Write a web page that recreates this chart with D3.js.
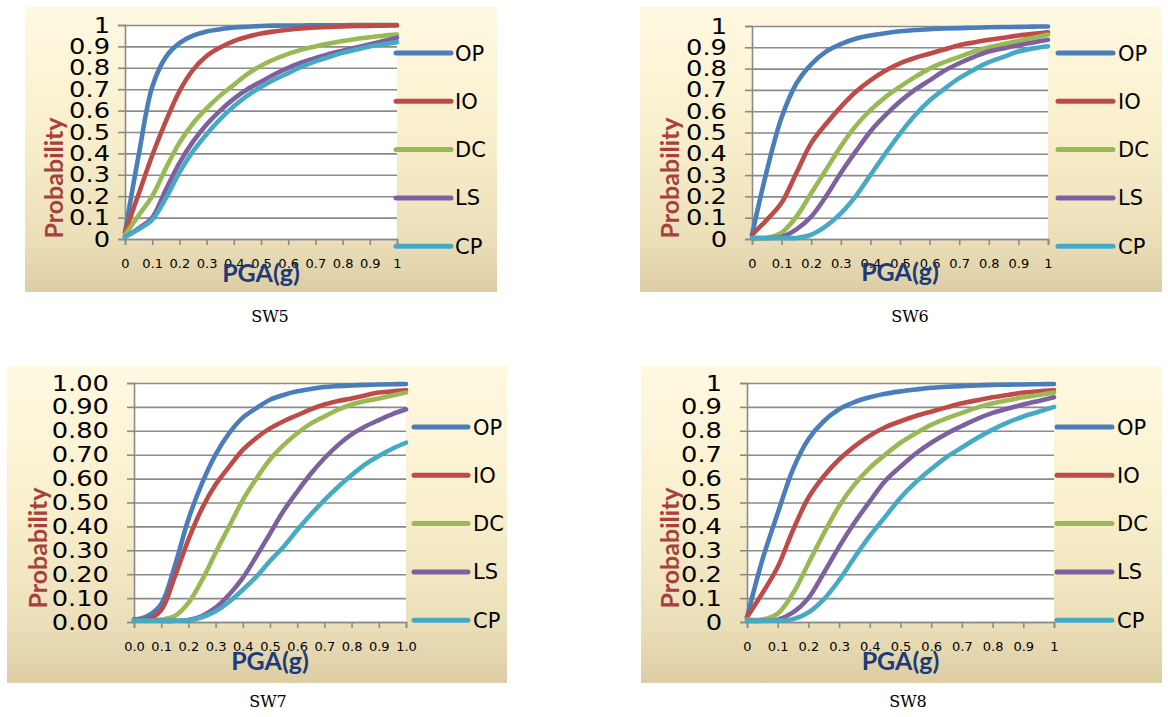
<!DOCTYPE html>
<html>
<head>
<meta charset="utf-8">
<script src="https://cdn.jsdelivr.net/npm/d3@7"></script>
<style>
  html, body { margin: 0; padding: 0; background: #ffffff; }
  svg { display: block; }
</style>
</head>
<body>
<svg id="chart" width="1168" height="717"></svg>
<script>
// Fragility curves: probability of reaching each performance level vs PGA (g)
const pga = [0, 0.05, 0.1, 0.15, 0.2, 0.25, 0.3, 0.35, 0.4, 0.45, 0.5,
             0.55, 0.6, 0.65, 0.7, 0.75, 0.8, 0.85, 0.9, 0.95, 1.0];

const levels = ["OP", "IO", "DC", "LS", "CP"];

// SW5
const sw5_OP = [0.03, 0.39, 0.71, 0.85, 0.915, 0.95, 0.97, 0.98, 0.988, 0.992, 0.995, 0.997, 0.998, 0.998, 0.999, 0.999, 0.999, 1.0, 1.0, 1.0, 1.0];
const sw5_IO = [0.03, 0.21, 0.39, 0.55, 0.69, 0.79, 0.855, 0.895, 0.925, 0.945, 0.96, 0.97, 0.978, 0.984, 0.988, 0.991, 0.993, 0.995, 0.996, 0.997, 0.998];
const sw5_DC = [0.02, 0.11, 0.20, 0.33, 0.45, 0.54, 0.61, 0.67, 0.72, 0.77, 0.81, 0.84, 0.865, 0.885, 0.90, 0.913, 0.925, 0.935, 0.943, 0.95, 0.955];
const sw5_LS = [0.01, 0.05, 0.10, 0.23, 0.355, 0.455, 0.535, 0.60, 0.655, 0.70, 0.735, 0.77, 0.80, 0.825, 0.845, 0.865, 0.88, 0.895, 0.91, 0.925, 0.94];
const sw5_CP = [0.01, 0.045, 0.09, 0.19, 0.31, 0.41, 0.49, 0.56, 0.62, 0.67, 0.71, 0.745, 0.775, 0.805, 0.83, 0.85, 0.87, 0.885, 0.90, 0.91, 0.92];

// SW6
const sw6_OP = [0.02, 0.32, 0.57, 0.73, 0.82, 0.88, 0.915, 0.94, 0.955, 0.966, 0.975, 0.981, 0.985, 0.988, 0.99, 0.992, 0.994, 0.995, 0.996, 0.997, 0.998];
const sw6_IO = [0.02, 0.09, 0.17, 0.31, 0.45, 0.54, 0.62, 0.69, 0.745, 0.79, 0.825, 0.85, 0.87, 0.89, 0.91, 0.923, 0.935, 0.945, 0.955, 0.963, 0.97];
const sw6_DC = [0.005, 0.005, 0.03, 0.105, 0.215, 0.325, 0.435, 0.53, 0.605, 0.665, 0.715, 0.76, 0.80, 0.83, 0.855, 0.88, 0.90, 0.915, 0.93, 0.945, 0.96];
const sw6_LS = [0.005, 0.005, 0.01, 0.045, 0.105, 0.20, 0.31, 0.41, 0.505, 0.58, 0.645, 0.70, 0.745, 0.79, 0.825, 0.855, 0.88, 0.895, 0.91, 0.923, 0.935];
const sw6_CP = [0.005, 0.005, 0.005, 0.005, 0.02, 0.06, 0.12, 0.20, 0.30, 0.40, 0.495, 0.58, 0.65, 0.705, 0.755, 0.795, 0.83, 0.855, 0.88, 0.895, 0.905];

// SW7
const sw7_OP = [0.01, 0.025, 0.075, 0.235, 0.43, 0.58, 0.70, 0.79, 0.855, 0.895, 0.93, 0.95, 0.965, 0.975, 0.983, 0.987, 0.99, 0.992, 0.994, 0.995, 0.996];
const sw7_IO = [0.01, 0.01, 0.05, 0.19, 0.345, 0.475, 0.575, 0.65, 0.72, 0.77, 0.81, 0.84, 0.865, 0.89, 0.91, 0.925, 0.935, 0.948, 0.96, 0.965, 0.97];
const sw7_DC = [0.005, 0.005, 0.01, 0.025, 0.08, 0.175, 0.29, 0.40, 0.51, 0.60, 0.68, 0.74, 0.79, 0.83, 0.86, 0.888, 0.91, 0.925, 0.935, 0.948, 0.96];
const sw7_LS = [0.005, 0.005, 0.005, 0.005, 0.008, 0.025, 0.06, 0.115, 0.185, 0.275, 0.37, 0.465, 0.545, 0.62, 0.685, 0.74, 0.785, 0.818, 0.845, 0.87, 0.89];
const sw7_CP = [0.005, 0.005, 0.005, 0.005, 0.007, 0.02, 0.045, 0.085, 0.135, 0.19, 0.255, 0.315, 0.385, 0.45, 0.51, 0.565, 0.615, 0.66, 0.695, 0.725, 0.75];

// SW8
const sw8_OP = [0.02, 0.26, 0.455, 0.64, 0.765, 0.84, 0.89, 0.92, 0.94, 0.955, 0.965, 0.973, 0.98, 0.984, 0.987, 0.99, 0.992, 0.993, 0.994, 0.995, 0.996];
const sw8_IO = [0.02, 0.12, 0.23, 0.385, 0.52, 0.61, 0.68, 0.735, 0.78, 0.815, 0.84, 0.862, 0.88, 0.898, 0.915, 0.928, 0.94, 0.95, 0.96, 0.965, 0.97];
const sw8_DC = [0.01, 0.01, 0.035, 0.12, 0.245, 0.37, 0.485, 0.575, 0.645, 0.70, 0.75, 0.79, 0.825, 0.852, 0.875, 0.897, 0.915, 0.928, 0.94, 0.95, 0.96];
const sw8_LS = [0.005, 0.005, 0.01, 0.04, 0.10, 0.205, 0.315, 0.415, 0.505, 0.59, 0.65, 0.705, 0.75, 0.788, 0.82, 0.85, 0.875, 0.893, 0.91, 0.925, 0.94];
const sw8_CP = [0.005, 0.005, 0.006, 0.012, 0.04, 0.095, 0.175, 0.27, 0.36, 0.44, 0.52, 0.585, 0.64, 0.69, 0.73, 0.77, 0.805, 0.835, 0.86, 0.88, 0.90];

// Axis tick values
const yTicks = [0, 0.1, 0.2, 0.3, 0.4, 0.5, 0.6, 0.7, 0.8, 0.9, 1];
const xTicks = [0, 0.1, 0.2, 0.3, 0.4, 0.5, 0.6, 0.7, 0.8, 0.9, 1];

const levelColors = ["#4a7ebb", "#be4b48", "#98b954", "#7d60a0", "#46aac5"];

const panels = [
  { caption: "SW5", series: [sw5_OP, sw5_IO, sw5_DC, sw5_LS, sw5_CP],
    bg: { x: 25, y: 7, w: 472, h: 285 }, plot: { l: 125, r: 397, t: 25, b: 239 },
    yFmt: v => String(v), xFmt: v => String(v), yPad: 8,
    yTitle: { x: 63, y: 178 }, xTitle: { y: 282 },
    legend: { x1: 396, x2: 451, tx: 455, y0: 53, dy: 48.3 },
    cap: { x: 270, y: 322 } },
  { caption: "SW6", series: [sw6_OP, sw6_IO, sw6_DC, sw6_LS, sw6_CP],
    bg: { x: 640, y: 7, w: 522, h: 285 }, plot: { l: 752, r: 1048, t: 26, b: 239 },
    yFmt: v => String(v), xFmt: v => String(v), yPad: 18,
    yTitle: { x: 679, y: 178 }, xTitle: { y: 281 },
    legend: { x1: 1058, x2: 1113, tx: 1118, y0: 53, dy: 48.3 },
    cap: { x: 910, y: 322 } },
  { caption: "SW7", series: [sw7_OP, sw7_IO, sw7_DC, sw7_LS, sw7_CP],
    bg: { x: 7, y: 366, w: 500, h: 317 }, plot: { l: 134, r: 406, t: 383, b: 622 },
    yFmt: d3.format(".2f"), xFmt: d3.format(".1f"), yPad: 18,
    yTitle: { x: 47, y: 548 }, xTitle: { y: 670 },
    legend: { x1: 414, x2: 468, tx: 473, y0: 427, dy: 48.3 },
    cap: { x: 268, y: 707 } },
  { caption: "SW8", series: [sw8_OP, sw8_IO, sw8_DC, sw8_LS, sw8_CP],
    bg: { x: 641, y: 366, w: 521, h: 317 }, plot: { l: 747, r: 1054, t: 383, b: 622 },
    yFmt: v => String(v), xFmt: v => String(v), yPad: 18,
    yTitle: { x: 679, y: 548 }, xTitle: { y: 670 },
    legend: { x1: 1057, x2: 1112, tx: 1117, y0: 427, dy: 48.3 },
    cap: { x: 908, y: 707 } }
];

const svg = d3.select("#chart");
const defs = svg.append("defs");
const grad = defs.append("linearGradient")
  .attr("id", "parchment").attr("x1", 0).attr("y1", 0).attr("x2", 0).attr("y2", 1);
[["0%", "#fff9e2"], ["45%", "#f9efcc"], ["80%", "#ece0ba"], ["100%", "#ddcda5"]]
  .forEach(([o, c]) => grad.append("stop").attr("offset", o).attr("stop-color", c));

const gridColor = "#8a8a8a";
const tickFont = "'DejaVu Sans', 'Open Sans', sans-serif";
const titleFont = "Lato, 'Open Sans', sans-serif";

panels.forEach(p => {
  const g = svg.append("g");

  // chart area background
  g.append("rect")
    .attr("x", p.bg.x).attr("y", p.bg.y).attr("width", p.bg.w).attr("height", p.bg.h)
    .attr("fill", "url(#parchment)");

  // plot area
  g.append("rect")
    .attr("x", p.plot.l).attr("y", p.plot.t)
    .attr("width", p.plot.r - p.plot.l).attr("height", p.plot.b - p.plot.t)
    .attr("fill", "#ffffff");

  const x = d3.scaleLinear().domain([0, 1]).range([p.plot.l, p.plot.r]);
  const y = d3.scaleLinear().domain([0, 1]).range([p.plot.b, p.plot.t]);
  const w = p.plot.r - p.plot.l;

  // horizontal gridlines
  const grid = g.append("g")
    .attr("transform", `translate(${p.plot.l},0)`)
    .call(d3.axisLeft(y).tickValues(yTicks).tickSize(-w).tickFormat(""));
  grid.select(".domain").remove();
  grid.selectAll(".tick line").attr("stroke", gridColor).attr("stroke-width", 1.6);

  // y axis: outer ticks and labels
  const yAx = g.append("g")
    .attr("transform", `translate(${p.plot.l},0)`)
    .call(d3.axisLeft(y).tickValues(yTicks).tickSize(7).tickPadding(p.yPad).tickFormat(p.yFmt));
  yAx.select(".domain").attr("stroke", gridColor).attr("stroke-width", 1.6);
  yAx.selectAll(".tick line").attr("stroke", gridColor).attr("stroke-width", 1.6);
  const sx = 1.17;
  yAx.selectAll(".tick text")
    .attr("fill", "#000").attr("font-family", tickFont).attr("font-size", 22)
    .attr("x", -(7 + p.yPad) / sx)
    .attr("transform", `scale(${sx},1)`);

  // x axis
  const xAx = g.append("g")
    .attr("transform", `translate(0,${p.plot.b})`)
    .call(d3.axisBottom(x).tickValues(xTicks).tickSize(6).tickFormat(p.xFmt));
  xAx.select(".domain").attr("stroke", gridColor).attr("stroke-width", 1.6);
  xAx.selectAll(".tick line").attr("stroke", gridColor).attr("stroke-width", 1.6);
  xAx.selectAll(".tick text")
    .attr("fill", "#000").attr("font-family", tickFont).attr("font-size", 13)
    .attr("y", 28.5).attr("dy", 0);

  // fragility curves
  const line = d3.line()
    .x((d, i) => x(pga[i]))
    .y(d => y(d))
    .curve(d3.curveCatmullRom.alpha(0.5));
  p.series.forEach((vals, k) => {
    g.append("path")
      .datum(vals)
      .attr("d", line)
      .attr("fill", "none")
      .attr("stroke", levelColors[k])
      .attr("stroke-width", 4.6)
      .attr("stroke-linecap", "round")
      .attr("stroke-linejoin", "round");
  });

  // axis titles
  g.append("text")
    .attr("transform", `translate(${p.yTitle.x},${p.yTitle.y}) rotate(-90)`)
    .attr("text-anchor", "middle")
    .attr("font-family", titleFont).attr("font-weight", 700).attr("font-size", 25)
    .attr("fill", "#a8403c")
    .text("Probability");
  g.append("text")
    .attr("x", (p.plot.l + p.plot.r) / 2).attr("y", p.xTitle.y)
    .attr("text-anchor", "middle")
    .attr("font-family", titleFont).attr("font-weight", 700).attr("font-size", 25)
    .attr("fill", "#1c3b78")
    .text("PGA(g)");

  // legend
  levels.forEach((name, k) => {
    const ly = p.legend.y0 + k * p.legend.dy;
    g.append("line")
      .attr("x1", p.legend.x1).attr("x2", p.legend.x2).attr("y1", ly).attr("y2", ly)
      .attr("stroke", levelColors[k]).attr("stroke-width", 5).attr("stroke-linecap", "round");
    g.append("text")
      .attr("x", p.legend.tx).attr("y", ly + 7.5)
      .attr("font-family", tickFont).attr("font-size", 21).attr("fill", "#000")
      .text(name);
  });

  // caption
  svg.append("text")
    .attr("x", p.cap.x).attr("y", p.cap.y)
    .attr("text-anchor", "middle")
    .attr("font-family", "'DejaVu Serif', 'Liberation Serif', serif").attr("font-size", 16)
    .attr("fill", "#000")
    .text(p.caption);
});
</script>
</body>
</html>
